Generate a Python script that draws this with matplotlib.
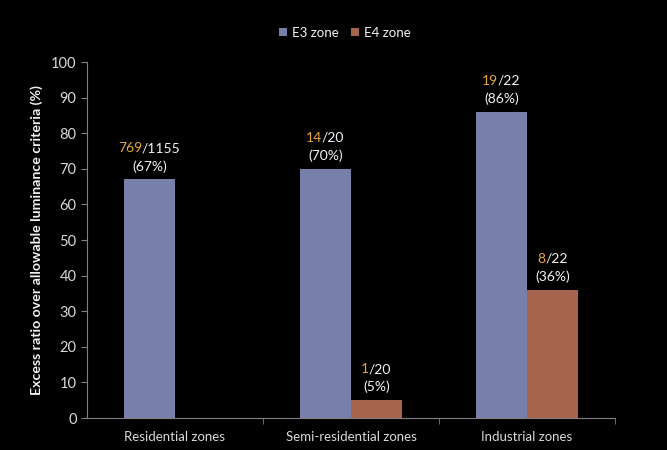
import matplotlib
matplotlib.use("Agg")
import matplotlib.pyplot as plt
import numpy as np
from matplotlib.font_manager import FontProperties, findfont, get_font

categories = ["Residential zones", "Semi-residential zones", "Industrial zones"]
series_names = ["E3 zone", "E4 zone"]
e3_values = [67, 70, 86]
e4_values = [0, 5, 36]
e3_counts = [769, 14, 19]
e3_totals = [1155, 20, 22]
e4_counts = [None, 1, 8]
e4_totals = [None, 20, 22]
y_ticks = [0, 10, 20, 30, 40, 50, 60, 70, 80, 90, 100]

E3_COLOR = "#7880A9"
E4_COLOR = "#A6644E"
ORANGE = "#E9A83C"
WHITE = "#F2F2F2"
GREY = "#D9D9D9"
FONT = "Lato"

plt.rcParams["font.family"] = [FONT, "DejaVu Sans"]

fig = plt.figure(figsize=(6.67, 4.5), dpi=100, facecolor="black")
ax = fig.add_axes([0.1304, 0.0711, 0.7916, 0.7911], facecolor="black")

x = np.arange(len(categories))
w = 0.29
ax.bar(x - w / 2, e3_values, w, color=E3_COLOR, label=series_names[0])
ax.bar(x + w / 2, e4_values, w, color=E4_COLOR, label=series_names[1])

ax.set_xlim(-0.5, len(categories) - 0.5)
ax.set_ylim(0, 100)
ax.set_yticks(y_ticks)
ax.set_xticks(x)
ax.set_xticklabels(categories)
ax.tick_params(axis="both", colors="#808080", labelcolor=GREY)
ax.tick_params(axis="y", length=4, direction="out", labelsize=10.5)
ax.tick_params(axis="x", length=0, pad=9, labelsize=9.5)
ax.set_xticks([0.5, 1.5, 2.5], minor=True)
ax.tick_params(axis="x", which="minor", length=4, direction="out", colors="#808080")
for s in ["top", "right"]:
    ax.spines[s].set_visible(False)
for s in ["left", "bottom"]:
    ax.spines[s].set_color("#808080")
    ax.spines[s].set_linewidth(0.8)

ax.set_ylabel("Excess ratio over allowable luminance criteria (%)", color=WHITE,
              fontsize=10.2, fontweight="bold", labelpad=6)

LABEL_SIZE = 10
renderer = fig.canvas.get_renderer()
ft = get_font(findfont(FontProperties(family=FONT)))
ft.set_size(LABEL_SIZE, fig.dpi)


def advance_px(s):
    return sum(ft.load_char(ord(c)).linearHoriAdvance / 65536 for c in s)


def lsb_px(c):
    return ft.load_char(ord(c)).horiBearingX / 64


def ink_width_px(s):
    t = fig.text(0, 0, s, fontsize=LABEL_SIZE)
    wpx = t.get_window_extent(renderer).width
    t.remove()
    return wpx


def label(xpos, value, num, den):
    ax.annotate(f"({value}%)", (xpos, value), xytext=(0, 5), textcoords="offset points",
                ha="center", va="bottom", color=WHITE, fontsize=LABEL_SIZE)
    num_s, den_s = str(num), f"/{den}"
    left = -ink_width_px(num_s + den_s) / 2
    den_left = left - lsb_px(num_s[0]) + advance_px(num_s) + lsb_px(den_s[0])
    k = 72 / fig.dpi
    ax.annotate(num_s, (xpos, value), xytext=(left * k, 18), textcoords="offset points",
                ha="left", va="bottom", color=ORANGE, fontsize=LABEL_SIZE)
    ax.annotate(den_s, (xpos, value), xytext=(den_left * k, 18), textcoords="offset points",
                ha="left", va="bottom", color=WHITE, fontsize=LABEL_SIZE)


for i in range(len(categories)):
    label(x[i] - w / 2, e3_values[i], e3_counts[i], e3_totals[i])
    if e4_counts[i] is not None:
        label(x[i] + w / 2, e4_values[i], e4_counts[i], e4_totals[i])

leg = fig.legend(loc="center", bbox_to_anchor=(0.517, 0.927), ncol=2, frameon=False,
                 fontsize=9.6, handlelength=0.6, handleheight=0.6, columnspacing=0.9,
                 handletextpad=0.4)
for t in leg.get_texts():
    t.set_color(WHITE)

fig.savefig("out.png", dpi=100, facecolor="black")
